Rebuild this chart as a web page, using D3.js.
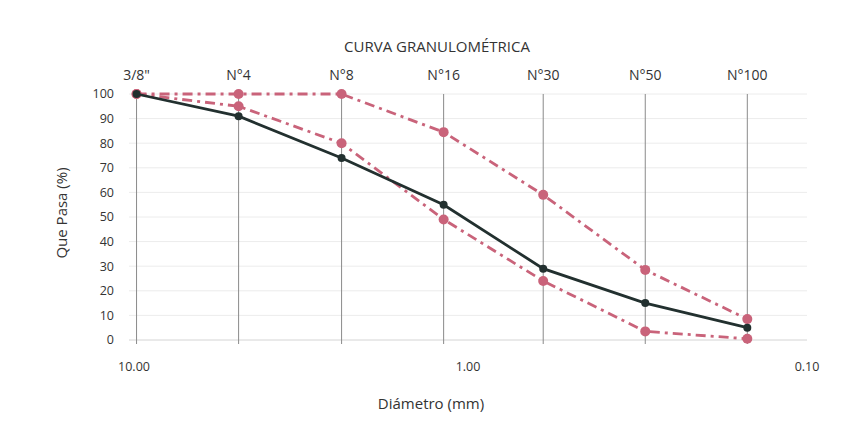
<!DOCTYPE html>
<html><head><meta charset="utf-8">
<script src="https://cdn.jsdelivr.net/npm/d3@7"></script>
<style>body{margin:0;background:#fff}svg{display:block}text{font-family:"Open Sans",Lato,sans-serif}</style>
</head><body><svg id="c" width="854" height="421"></svg>
<script>
const sieves = ['3/8"', "N°4", "N°8", "N°16", "N°30", "N°50", "N°100"];
const diameters = [9.5, 4.75, 2.36, 1.18, 0.6, 0.3, 0.15];
const passing = [100, 91, 74, 55, 29, 15, 5];
const upperLimit = [100, 100, 100, 84.5, 59, 28.5, 8.5];
const lowerLimit = [100, 95, 80, 49, 24, 3.5, 0.5];
const yTicks = [0, 10, 20, 30, 40, 50, 60, 70, 80, 90, 100];
const xTicks = [10, 1, 0.1];

const svg = d3.select("#c");
const L = 129, R = 807, T = 94, B = 340;
const x = d3.scaleLog().domain([10, 0.1]).range([L, R]);
const y = d3.scaleLinear().domain([0, 100]).range([B, T]);

// horizontal gridlines
svg.append("g").selectAll("line").data(yTicks).join("line")
  .attr("x1", L).attr("x2", R).attr("y1", d => y(d)).attr("y2", d => y(d))
  .attr("stroke", d => d === 0 ? "#d4d4d4" : "#ececec").attr("stroke-width", 1);

// vertical sieve lines
svg.append("g").selectAll("line").data(diameters).join("line")
  .attr("x1", d => x(d)).attr("x2", d => x(d)).attr("y1", y(100)).attr("y2", B + 4)
  .attr("stroke", "#8a8a8a").attr("stroke-width", 1);

// y axis labels
svg.append("g").selectAll("text").data(yTicks).join("text")
  .attr("x", 114).attr("y", d => y(d)).attr("dy", "0.35em")
  .attr("text-anchor", "end").attr("font-size", 12.5).attr("fill", "#333")
  .text(d => d);

// x axis labels
const fmt = d3.format(".2f");
svg.append("g").selectAll("text").data(xTicks).join("text")
  .attr("x", d => x(d) + (d === 10 ? 5 : 0)).attr("y", 371)
  .attr("text-anchor", "middle").attr("font-size", 12.5).attr("fill", "#333")
  .text(d => fmt(d));

// top sieve labels
svg.append("g").selectAll("text").data(sieves).join("text")
  .attr("x", (d, i) => x(diameters[i])).attr("y", 80)
  .attr("text-anchor", "middle").attr("font-size", 14).attr("fill", "#333")
  .text(d => d);

// title
svg.append("text").attr("x", 437).attr("y", 52).attr("text-anchor", "middle")
  .attr("font-size", 15).attr("fill", "#333").text("CURVA GRANULOMÉTRICA");

// axis titles
svg.append("text").attr("transform", "translate(67,213) rotate(-90)")
  .attr("text-anchor", "middle").attr("font-size", 15).attr("fill", "#333")
  .attr("font-family", "Liberation Sans, Arial, sans-serif").text("Que Pasa (%)");
svg.append("text").attr("x", 431).attr("y", 409).attr("text-anchor", "middle")
  .attr("font-size", 15).attr("fill", "#333").text("Diámetro (mm)");

const line = d3.line().x(d => x(d[0])).y(d => y(d[1]));
const pink = "#c9637a";
function series(vals, color, dash, r) {
  const pts = diameters.map((d, i) => [d, vals[i]]);
  svg.append("path").datum(pts).attr("d", line).attr("fill", "none")
    .attr("stroke", color).attr("stroke-width", 2.8)
    .attr("stroke-dasharray", dash);
  svg.append("g").selectAll("circle").data(pts).join("circle")
    .attr("cx", d => x(d[0])).attr("cy", d => y(d[1])).attr("r", r).attr("fill", color);
}
series(upperLimit, pink, "10,5,3,5", 5);
series(lowerLimit, pink, "10,5,3,5", 5);
series(passing, "#22302f", null, 4);
</script></body></html>
